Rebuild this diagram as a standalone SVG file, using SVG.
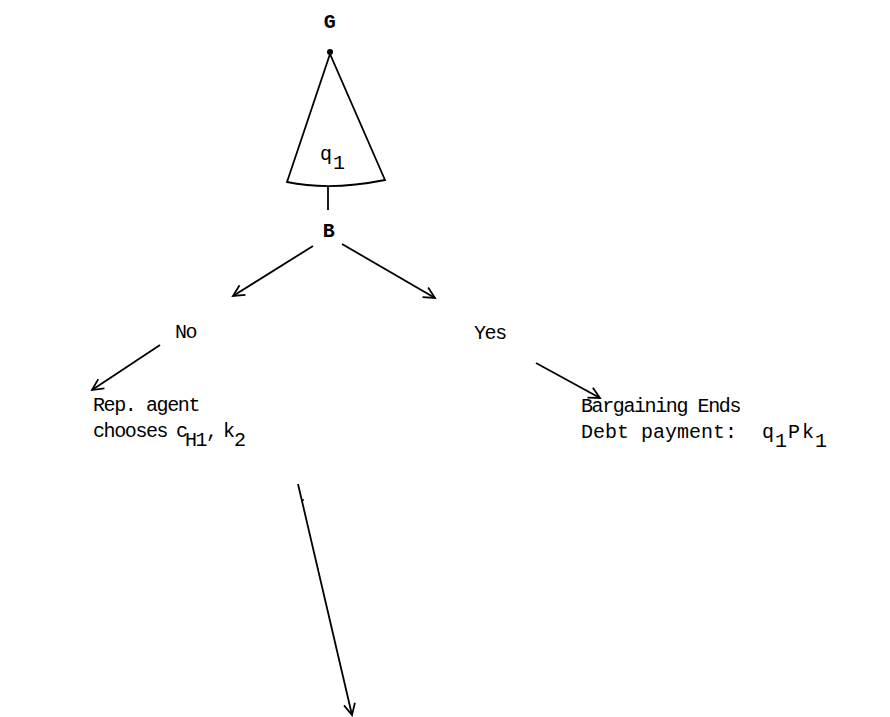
<svg xmlns="http://www.w3.org/2000/svg" width="890" height="717" viewBox="0 0 890 717">
<style>
  .t { font-family: "Liberation Mono", "DejaVu Sans Mono", monospace; font-size: 20px; letter-spacing: -1.4px; fill: #000; }
  .b { font-weight: bold; }
  .ln { stroke: #000; stroke-width: 1.8; fill: none; }
</style>
<defs>
  <marker id="ah" viewBox="0 0 20 20" refX="18" refY="10" markerWidth="16" markerHeight="16" markerUnits="userSpaceOnUse" orient="auto">
    <polyline points="4,3 18,10 4,17" fill="none" stroke="#000" stroke-width="2.2"/>
  </marker>
</defs>
<rect width="890" height="717" fill="#fff"/>

<g id="nodeG">
  <text class="t b" x="329" y="28" text-anchor="middle">G</text>
  <circle cx="330" cy="52" r="3" fill="#000"/>
</g>
<g id="cone">
  <path class="ln" d="M330,54 L287,182 Q330,191 385,180 Z" stroke-width="2"/>
  <text class="t" x="320" y="160">q<tspan x="333" dy="9">1</tspan></text>
</g>
<g id="nodeB">
  <text class="t b" x="328" y="237" text-anchor="middle">B</text>
</g>
<g id="nodeNo">
  <text class="t" x="175" y="338">No</text>
</g>
<g id="nodeYes">
  <text class="t" x="474" y="339">Yes</text>
</g>
<g id="nodeRep">
  <text class="t" x="93" y="411">Rep. agent</text>
  <text class="t" x="93" y="437">chooses<tspan x="176">c</tspan><tspan x="185" dy="9">H1</tspan><tspan x="206" dy="-9">,</tspan><tspan x="223">k</tspan><tspan x="234" dy="9">2</tspan></text>
</g>
<g id="nodeEnd">
  <text class="t" x="581" y="412">Bargaining Ends</text>
  <text class="t" x="581" y="438"><tspan style="letter-spacing:0px">Debt payment:</tspan><tspan x="762">q</tspan><tspan x="775" dy="9">1</tspan><tspan x="788" dy="-9">P</tspan><tspan x="802">k</tspan><tspan x="815" dy="9">1</tspan></text>
</g>
<circle cx="303" cy="500" r="1" fill="#000"/>

<g id="connectors">
  <line class="ln" x1="328" y1="187" x2="328" y2="210"/>
  <line class="ln" x1="313" y1="246" x2="233" y2="296" marker-end="url(#ah)"/>
  <line class="ln" x1="342" y1="244" x2="435" y2="298" marker-end="url(#ah)"/>
  <line class="ln" x1="160" y1="345" x2="92" y2="390" marker-end="url(#ah)"/>
  <line class="ln" x1="536" y1="363" x2="600" y2="398" marker-end="url(#ah)"/>
  <line class="ln" x1="298" y1="484" x2="352" y2="715" marker-end="url(#ah)"/>
</g>
</svg>
